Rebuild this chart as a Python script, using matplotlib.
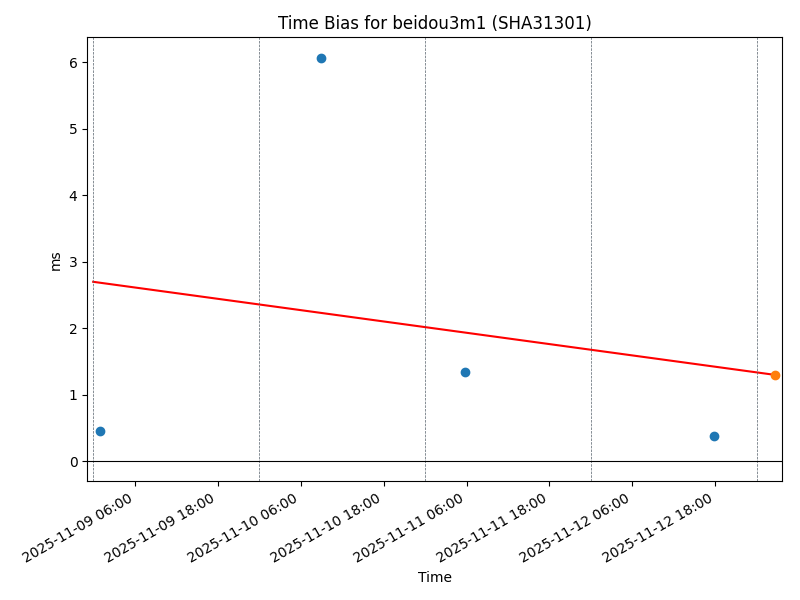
import numpy as np
import pandas as pd
import matplotlib
matplotlib.use("Agg")
import matplotlib.pyplot as plt
import matplotlib.dates as mdates

# measured time bias (ms)
obs_times = pd.to_datetime(["2025-11-09 01:00", "2025-11-10 09:00",
                            "2025-11-11 05:50", "2025-11-12 17:50"])
obs_values = [0.45, 6.07, 1.34, 0.38]

# predicted point
pred_time = pd.to_datetime(["2025-11-13 02:35"])
pred_value = [1.30]

# trend line
trend_times = pd.to_datetime(["2025-11-09 00:00", "2025-11-13 02:35"])
trend_values = [2.70, 1.30]

# day boundaries
day_lines = pd.to_datetime(["2025-11-09", "2025-11-10", "2025-11-11",
                            "2025-11-12", "2025-11-13"])

fig, ax = plt.subplots(figsize=(8, 6), dpi=100)
ax.scatter(obs_times, obs_values, color="C0", zorder=3)
ax.scatter(pred_time, pred_value, color="C1", zorder=3)
ax.plot(trend_times, trend_values, color="red")
for d in day_lines:
    ax.axvline(d, color="#55606a", linestyle="--", linewidth=0.5)
ax.axhline(0, color="black", linewidth=0.8)

ax.set_xlim(pd.Timestamp("2025-11-08 23:08"), pd.Timestamp("2025-11-13 03:38"))
ax.set_ylim(-0.30, 6.38)
ax.xaxis.set_major_locator(mdates.HourLocator(byhour=[6, 18]))
ax.xaxis.set_major_formatter(mdates.DateFormatter("%Y-%m-%d %H:%M"))
ax.set_title("Time Bias for beidou3m1 (SHA31301)")
ax.set_xlabel("Time")
ax.set_ylabel("ms")
fig.autofmt_xdate()
plt.subplots_adjust(left=0.109, right=0.9775, top=0.938, bottom=0.198)
plt.savefig("out.png")
